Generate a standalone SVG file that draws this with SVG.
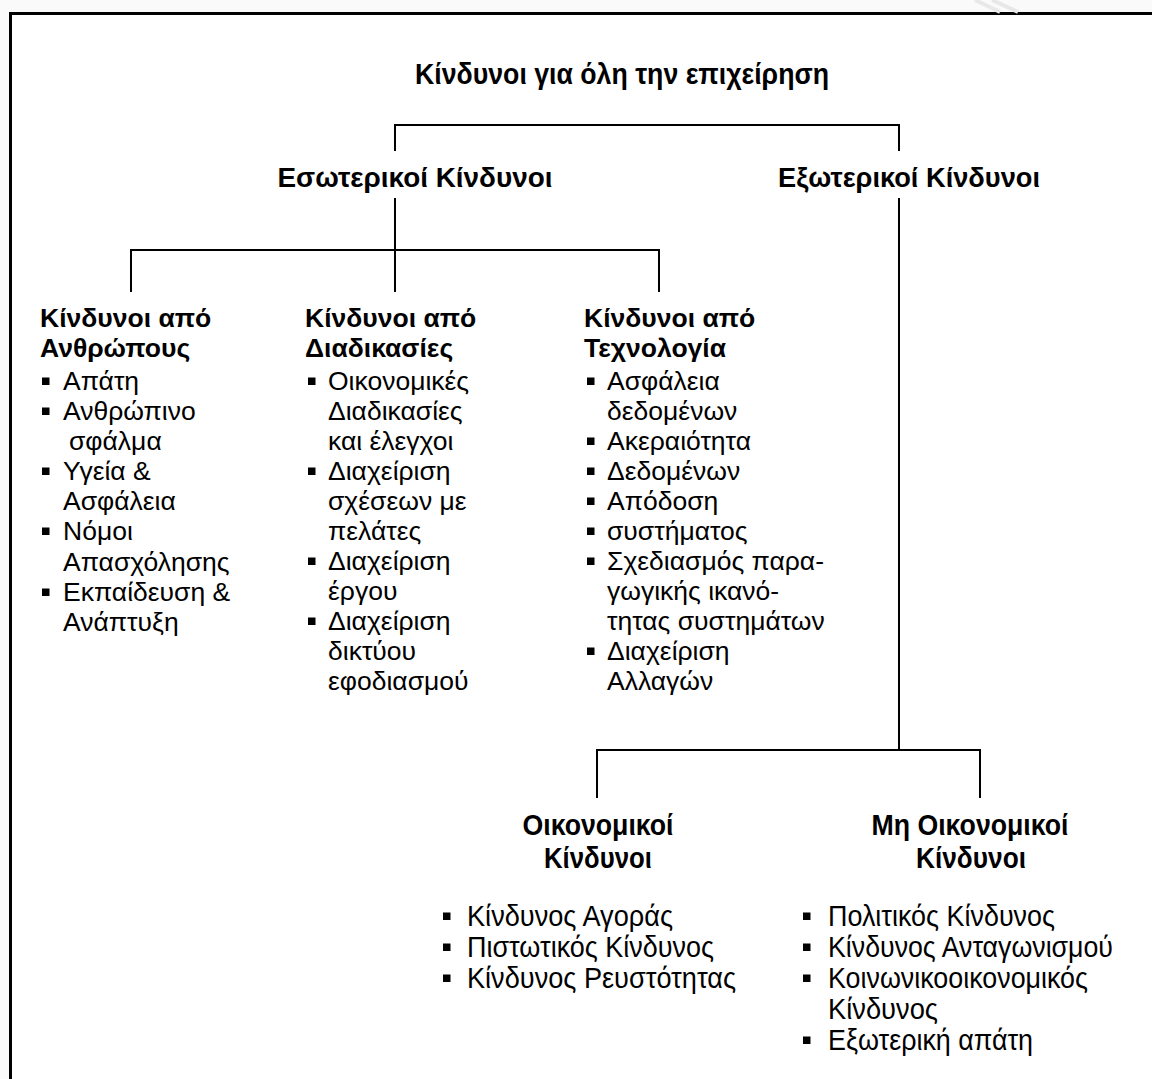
<svg xmlns="http://www.w3.org/2000/svg" width="1152" height="1079" viewBox="0 0 1152 1079">
  <style>
    .h { font-family: "Liberation Sans", Arial, sans-serif; font-weight: bold; font-size: 26.5px; fill: #000; }
    .hm { font-family: "Liberation Sans", Arial, sans-serif; font-weight: bold; font-size: 27.5px; fill: #000; text-anchor: middle; }
    .hc { font-family: "Liberation Sans", Arial, sans-serif; font-weight: bold; font-size: 29px; fill: #000; text-anchor: middle; }
    .t { font-family: "Liberation Sans", Arial, sans-serif; font-size: 26.5px; fill: #000; }
    .tn { font-family: "Liberation Sans", Arial, sans-serif; font-size: 29px; fill: #000; }
    .c { fill: none; stroke: #000; stroke-width: 2; }
  </style>
  <defs>
    <!-- square bullet, anchored at its bottom-left corner -->
    <rect id="sq" x="0" y="-7.5" width="7.5" height="7.5" fill="#000"/>
  </defs>

  <!-- page surround and frame -->
  <rect x="0" y="0" width="1152" height="1079" fill="#fafafa"/>
  <rect x="10.5" y="13.5" width="1160" height="1090" fill="#fff" stroke="#000" stroke-width="3"/>
  <path d="M975 0 L1000 12 M992 0 L1018 12" stroke="#e8e8e8" stroke-width="4" fill="none"/>

  <!-- connectors -->
  <g id="connectors" class="c">
    <path d="M395 151 V125 H899 V151"/>
    <path d="M395 198 V250"/>
    <path d="M131 292 V250 H659 V292"/>
    <path d="M395 250 V292"/>
    <path d="M899 198 V750"/>
    <path d="M597 798 V750 H980 V798"/>
  </g>

  <g id="root">
    <text class="hc" x="622" y="84" textLength="414" lengthAdjust="spacingAndGlyphs">Κίνδυνοι για όλη την επιχείρηση</text>
  </g>

  <g id="internal">
    <text class="hm" x="415" y="187" textLength="275" lengthAdjust="spacingAndGlyphs">Εσωτερικοί Κίνδυνοι</text>
  </g>

  <g id="external">
    <text class="hm" x="909" y="187" textLength="262" lengthAdjust="spacingAndGlyphs">Εξωτερικοί Κίνδυνοι</text>
  </g>

  <g id="people">
    <text class="h" x="40" y="327">Κίνδυνοι από</text>
    <text class="h" x="40" y="357">Ανθρώπους</text>
    <use href="#sq" x="42" y="385"/>
    <use href="#sq" x="42" y="415"/>
    <use href="#sq" x="42" y="475"/>
    <use href="#sq" x="42" y="535"/>
    <use href="#sq" x="42" y="596"/>
    <text class="t" x="63" y="390">Απάτη</text>
    <text class="t" x="63" y="420">Ανθρώπινο</text>
    <text class="t" x="69" y="450">σφάλμα</text>
    <text class="t" x="63" y="480">Υγεία &amp;</text>
    <text class="t" x="63" y="510">Ασφάλεια</text>
    <text class="t" x="63" y="540">Νόμοι</text>
    <text class="t" x="63" y="571">Απασχόλησης</text>
    <text class="t" x="63" y="601">Εκπαίδευση &amp;</text>
    <text class="t" x="63" y="631">Ανάπτυξη</text>
  </g>

  <g id="processes">
    <text class="h" x="305" y="327">Κίνδυνοι από</text>
    <text class="h" x="305" y="357">Διαδικασίες</text>
    <use href="#sq" x="308" y="385"/>
    <use href="#sq" x="308" y="475"/>
    <use href="#sq" x="308" y="565"/>
    <use href="#sq" x="308" y="625"/>
    <text class="t" x="328" y="390">Οικονομικές</text>
    <text class="t" x="328" y="420">Διαδικασίες</text>
    <text class="t" x="328" y="450">και έλεγχοι</text>
    <text class="t" x="328" y="480">Διαχείριση</text>
    <text class="t" x="328" y="510">σχέσεων με</text>
    <text class="t" x="328" y="540">πελάτες</text>
    <text class="t" x="328" y="570">Διαχείριση</text>
    <text class="t" x="328" y="600">έργου</text>
    <text class="t" x="328" y="630">Διαχείριση</text>
    <text class="t" x="328" y="660">δικτύου</text>
    <text class="t" x="328" y="690">εφοδιασμού</text>
  </g>

  <g id="technology">
    <text class="h" x="584" y="327">Κίνδυνοι από</text>
    <text class="h" x="584" y="357">Τεχνολογία</text>
    <use href="#sq" x="587" y="385"/>
    <use href="#sq" x="587" y="445"/>
    <use href="#sq" x="587" y="475"/>
    <use href="#sq" x="587" y="505"/>
    <use href="#sq" x="587" y="535"/>
    <use href="#sq" x="587" y="565"/>
    <use href="#sq" x="587" y="655"/>
    <text class="t" x="607" y="390">Ασφάλεια</text>
    <text class="t" x="607" y="420">δεδομένων</text>
    <text class="t" x="607" y="450">Ακεραιότητα</text>
    <text class="t" x="607" y="480">Δεδομένων</text>
    <text class="t" x="607" y="510">Απόδοση</text>
    <text class="t" x="607" y="540">συστήματος</text>
    <text class="t" x="607" y="570">Σχεδιασμός παρα-</text>
    <text class="t" x="607" y="600">γωγικής ικανό-</text>
    <text class="t" x="607" y="630">τητας συστημάτων</text>
    <text class="t" x="607" y="660">Διαχείριση</text>
    <text class="t" x="607" y="690">Αλλαγών</text>
  </g>

  <g id="financial">
    <text class="hc" x="598" y="835" textLength="151" lengthAdjust="spacingAndGlyphs">Οικονομικοί</text>
    <text class="hc" x="598" y="868" textLength="108" lengthAdjust="spacingAndGlyphs">Κίνδυνοι</text>
    <use href="#sq" x="443" y="920"/>
    <use href="#sq" x="443" y="951"/>
    <use href="#sq" x="443" y="982"/>
    <text class="tn" x="467" y="926" textLength="206" lengthAdjust="spacingAndGlyphs">Κίνδυνος Αγοράς</text>
    <text class="tn" x="467" y="957" textLength="247" lengthAdjust="spacingAndGlyphs">Πιστωτικός Κίνδυνος</text>
    <text class="tn" x="467" y="988" textLength="269" lengthAdjust="spacingAndGlyphs">Κίνδυνος Ρευστότητας</text>
  </g>

  <g id="nonfinancial">
    <text class="hc" x="970" y="835" textLength="197" lengthAdjust="spacingAndGlyphs">Μη Οικονομικοί</text>
    <text class="hc" x="971" y="868" textLength="110" lengthAdjust="spacingAndGlyphs">Κίνδυνοι</text>
    <use href="#sq" x="803" y="920"/>
    <use href="#sq" x="803" y="951"/>
    <use href="#sq" x="803" y="982"/>
    <use href="#sq" x="803" y="1044"/>
    <text class="tn" x="828" y="926" textLength="227" lengthAdjust="spacingAndGlyphs">Πολιτικός Κίνδυνος</text>
    <text class="tn" x="828" y="957" textLength="285" lengthAdjust="spacingAndGlyphs">Κίνδυνος Ανταγωνισμού</text>
    <text class="tn" x="828" y="988" textLength="260" lengthAdjust="spacingAndGlyphs">Κοινωνικοοικονομικός</text>
    <text class="tn" x="828" y="1019" textLength="110" lengthAdjust="spacingAndGlyphs">Κίνδυνος</text>
    <text class="tn" x="828" y="1050" textLength="205" lengthAdjust="spacingAndGlyphs">Εξωτερική απάτη</text>
  </g>
</svg>
